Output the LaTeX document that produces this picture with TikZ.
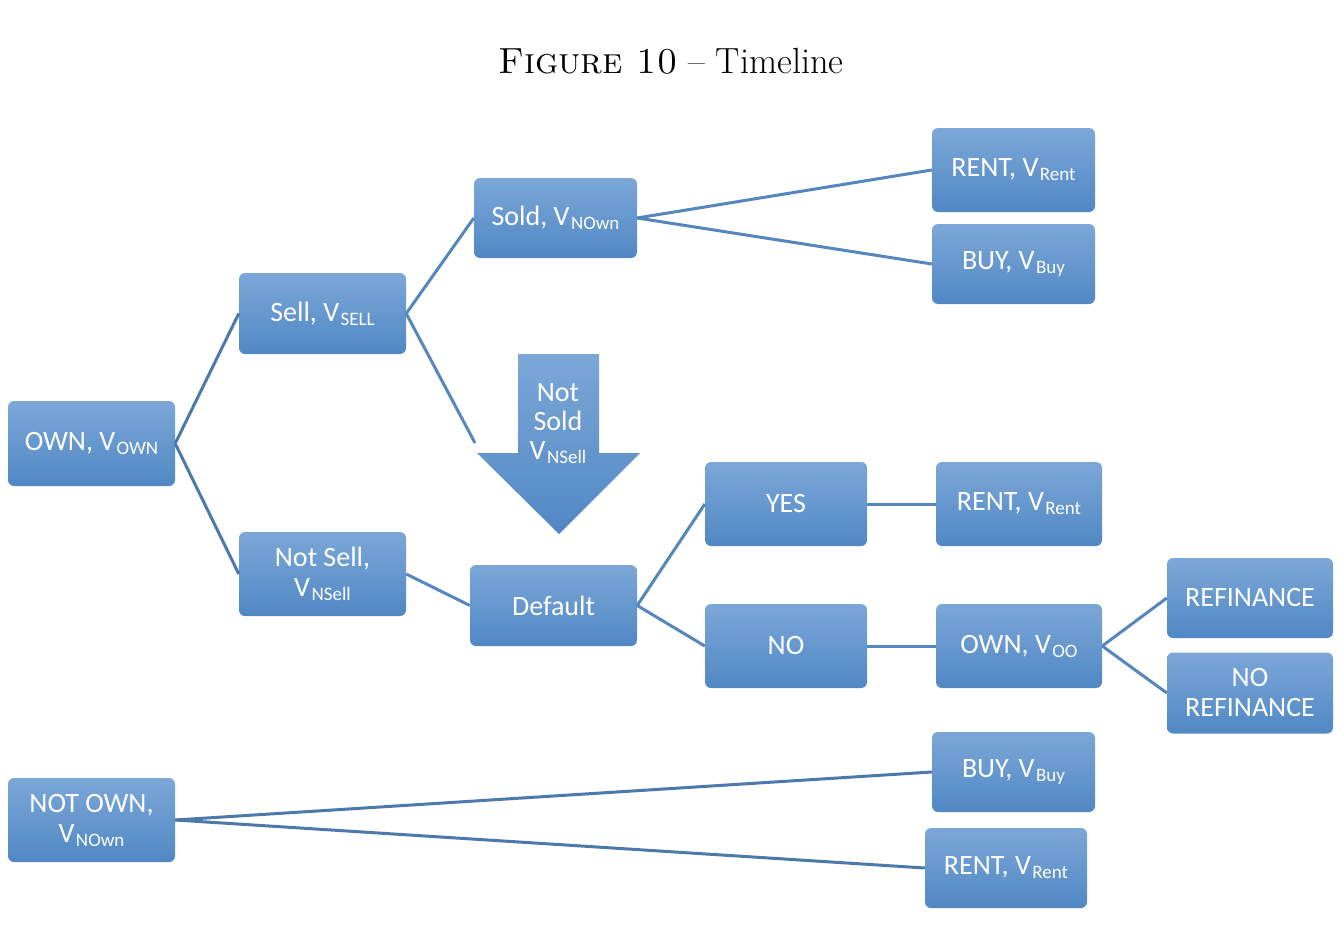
\documentclass[tikz,border=0pt]{standalone}
\usepackage{fontspec}
\newfontfamily\boxfont{Carlito}
\definecolor{boxtop}{RGB}{124,167,216}
\definecolor{boxbot}{RGB}{80,136,196}
\definecolor{lineblue}{RGB}{86,134,190}
\definecolor{linedark}{RGB}{76,120,170}
\newcommand{\sbs}[1]{\kern1.5pt\raisebox{-4pt}{\fontsize{19}{19}\selectfont #1}}
\tikzset{
  box/.style={rectangle, rounded corners=6pt, top color=boxtop, bottom color=boxbot,
    draw=none, text=white, inner sep=0pt, align=center,
    font=\boxfont\fontsize{28}{30}\selectfont},
  conn/.style={draw=lineblue, line width=3pt},
  conndark/.style={draw=linedark, line width=3pt},
}
\begin{document}
\begin{tikzpicture}[x=1pt,y=-1pt]
\useasboundingbox (0,0) rectangle (1344,942);
\node (title) at (671,61) {\fontsize{36.4}{42}\selectfont\textsc{Figure 10} -- Timeline};

\node[box, minimum width=167pt, minimum height=85pt] (own) at (91.5,443.5) {OWN, V\sbs{OWN}};
\node[box, minimum width=167pt, minimum height=81pt] (sell) at (322.5,313.5) {Sell, V\sbs{SELL}};
\node[box, minimum width=167pt, minimum height=84pt] (notsell) at (322.5,574) {Not Sell,\\V\sbs{NSell}};
\node[box, minimum width=163pt, minimum height=80pt] (sold) at (555.5,218) {Sold, V\sbs{NOwn}};
\node[box, minimum width=163pt, minimum height=84pt] (rentA) at (1013.5,170) {RENT, V\sbs{Rent}};
\node[box, minimum width=163pt, minimum height=80pt] (buyA) at (1013.5,264) {BUY, V\sbs{Buy}};
\node[box, minimum width=167pt, minimum height=81pt] (default) at (553.5,605.5) {Default};
\node[box, minimum width=162pt, minimum height=84pt] (yes) at (786,504) {YES};
\node[box, minimum width=162pt, minimum height=84pt] (no) at (786,646) {NO};
\node[box, minimum width=166pt, minimum height=84pt] (rentB) at (1019,504) {RENT, V\sbs{Rent}};
\node[box, minimum width=166pt, minimum height=84pt] (ownoo) at (1019,646) {OWN, V\sbs{OO}};
\node[box, minimum width=166pt, minimum height=80pt] (refi) at (1250,598) {REFINANCE};
\node[box, minimum width=166pt, minimum height=81pt] (norefi) at (1250,693) {NO\\REFINANCE};
\node[box, minimum width=167pt, minimum height=84pt] (notown) at (91.5,820) {NOT OWN,\\V\sbs{NOwn}};
\node[box, minimum width=163pt, minimum height=80pt] (buyB) at (1013.5,772) {BUY, V\sbs{Buy}};
\node[box, minimum width=162pt, minimum height=80pt] (rentC) at (1006,868) {RENT, V\sbs{Rent}};

% down arrow
\shade[top color=boxtop, bottom color=boxbot]
  (518,354) -- (599,354) -- (599,453) -- (640,453) -- (559,534) -- (477,453) -- (518,453) -- cycle;
\node[text=white, align=center, font=\boxfont\fontsize{28}{29}\selectfont] (nsold) at (558,424) {Not\\Sold\\V\sbs{NSell}};

\coordinate (sellend) at (475,443);

\draw[conndark] (own.east) -- (sell.west);
\draw[conndark] (own.east) -- (notsell.west);
\draw[conn] (sell.east) -- (sold.west);
\draw[conn] (sell.east) -- (sellend);
\draw[conn] (sold.east) -- (rentA.west);
\draw[conn] (sold.east) -- (buyA.west);
\draw[conn] (notsell.east) -- (default.west);
\draw[conn] (default.east) -- (yes.west);
\draw[conn] (default.east) -- (no.west);
\draw[conn] (yes.east) -- (rentB.west);
\draw[conn] (no.east) -- (ownoo.west);
\draw[conn] (ownoo.east) -- (refi.west);
\draw[conn] (ownoo.east) -- (norefi.west);
\draw[conndark] (notown.east) -- (buyB.west);
\draw[conndark] (notown.east) -- (rentC.west);
\end{tikzpicture}
\end{document}
